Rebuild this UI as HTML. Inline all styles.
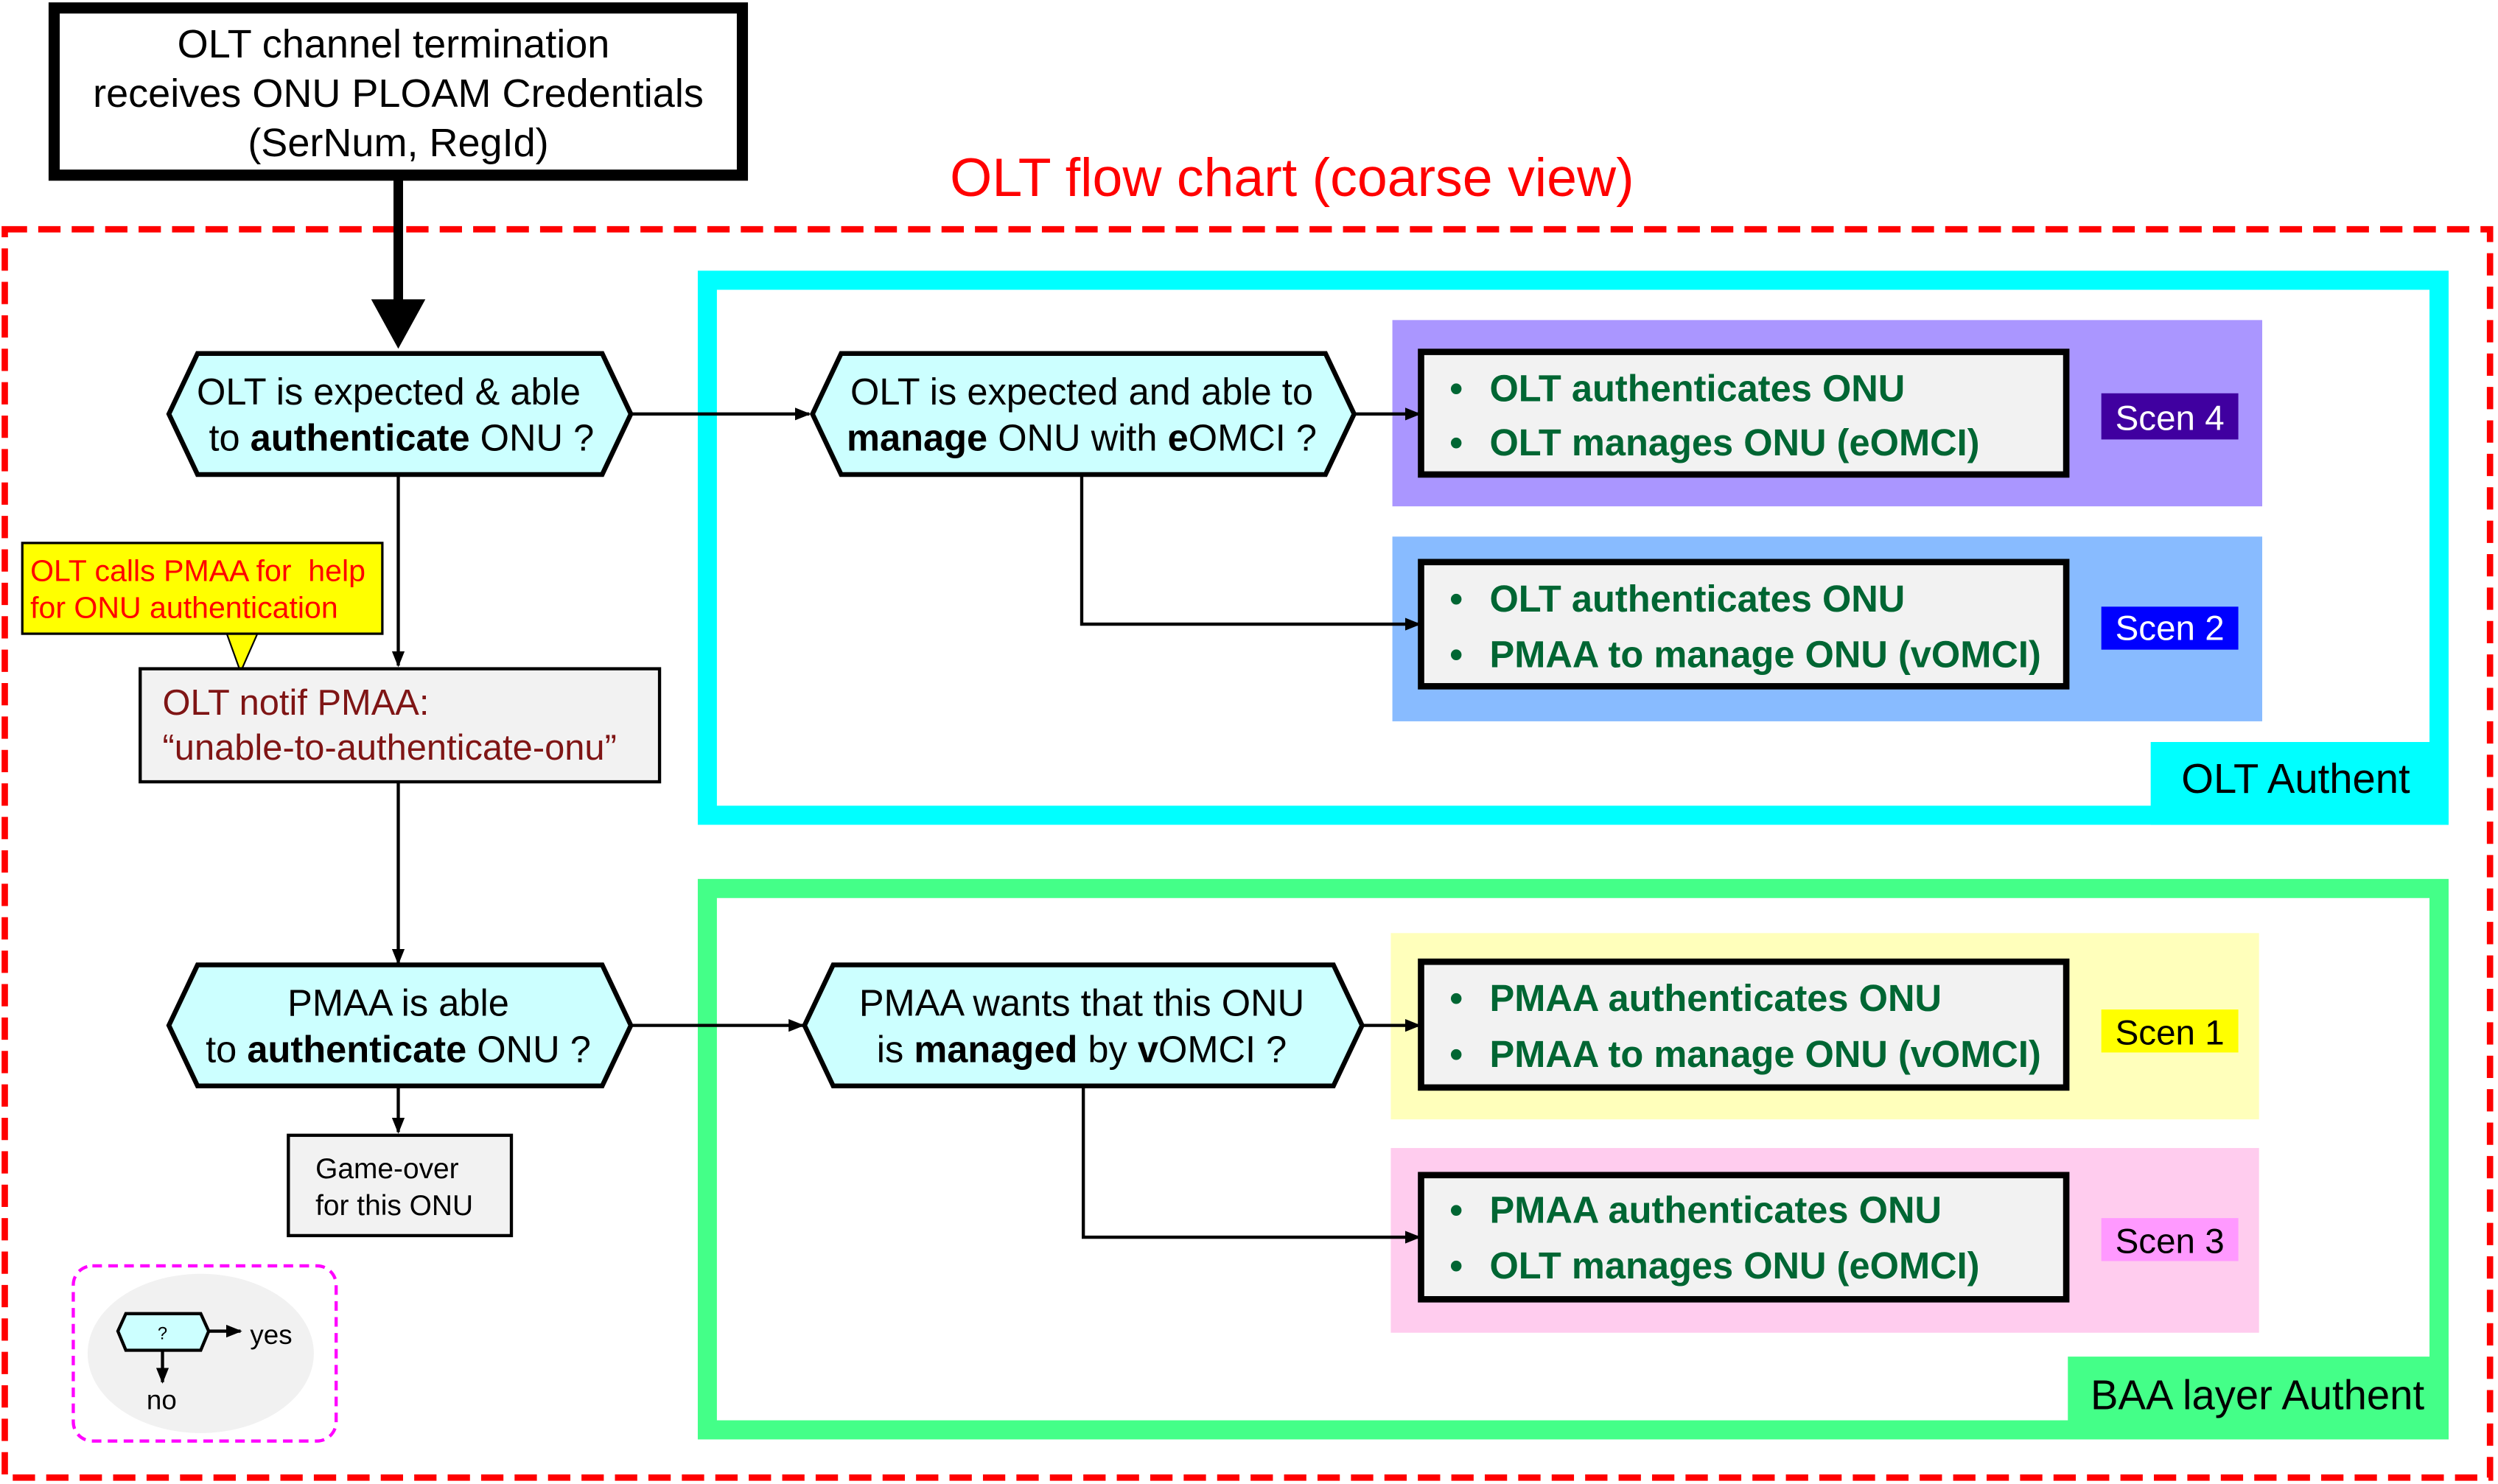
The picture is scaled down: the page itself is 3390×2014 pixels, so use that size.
<!DOCTYPE html>
<html><head><meta charset="utf-8"><style>
html,body{margin:0;padding:0;background:#fff;}
svg{display:block;}
text{font-family:"Liberation Sans",Arial,sans-serif;white-space:pre;}
</style></head><body>
<svg width="3390" height="2014" viewBox="0 0 1568 932" preserveAspectRatio="none" xmlns="http://www.w3.org/2000/svg" xml:space="preserve">
<defs>
<marker id="ah" markerWidth="10" markerHeight="8" refX="9" refY="4" orient="auto" markerUnits="userSpaceOnUse"><path d="M0,0 L10,4 L0,8 z" fill="#000"/></marker>
</defs>
<rect x="0" y="0" width="1568" height="932" fill="#fff"/>
<rect x="3" y="144" width="1560" height="784" fill="none" stroke="#ff0000" stroke-width="4" stroke-dasharray="14,7"/>
<text x="811" y="123" font-size="34" fill="#ff0000" text-anchor="middle">OLT flow chart (coarse view)</text>

<rect x="34" y="5" width="432" height="105" fill="#fff" stroke="#000" stroke-width="7"/>
<text x="247" y="36" font-size="25" text-anchor="middle">OLT channel termination</text>
<text x="250" y="67" font-size="25" text-anchor="middle">receives ONU PLOAM Credentials</text>
<text x="250" y="98" font-size="25" text-anchor="middle">(SerNum, RegId)</text>
<line x1="250" y1="112" x2="250" y2="190" stroke="#000" stroke-width="6"/>
<path d="M233,188 L267,188 L250,219 z" fill="#000"/>

<rect x="444" y="176" width="1087" height="336" fill="none" stroke="#00ffff" stroke-width="12"/>
<rect x="1350" y="466" width="187" height="52" fill="#00ffff"/>
<text x="1441" y="498" font-size="26" text-anchor="middle">OLT Authent</text>

<rect x="444" y="558" width="1087" height="340" fill="none" stroke="#44ff88" stroke-width="12"/>
<rect x="1298" y="852" width="239" height="52" fill="#44ff88"/>
<text x="1417" y="885" font-size="26" text-anchor="middle">BAA layer Authent</text>

<rect x="874" y="201" width="546" height="117" fill="#aa96ff"/>
<rect x="874" y="337" width="546" height="116" fill="#88bbff"/>
<rect x="873" y="586" width="545" height="117" fill="#ffffbb"/>
<rect x="873" y="721" width="545" height="116" fill="#ffccee"/>

<g font-size="23.4" font-weight="bold" fill="#006633">
<rect x="892" y="221" width="405" height="77" fill="#f2f2f2" stroke="#000" stroke-width="4"/>
<text x="910" y="252">•</text><text x="935" y="252">OLT authenticates ONU</text>
<text x="910" y="286">•</text><text x="935" y="286">OLT manages ONU (eOMCI)</text>
<rect x="892" y="353" width="405" height="78" fill="#f2f2f2" stroke="#000" stroke-width="4"/>
<text x="910" y="384">•</text><text x="935" y="384">OLT authenticates ONU</text>
<text x="910" y="419">•</text><text x="935" y="419">PMAA to manage ONU (vOMCI)</text>
<rect x="892" y="604" width="405" height="79" fill="#f2f2f2" stroke="#000" stroke-width="4"/>
<text x="910" y="635">•</text><text x="935" y="635">PMAA authenticates ONU</text>
<text x="910" y="670">•</text><text x="935" y="670">PMAA to manage ONU (vOMCI)</text>
<rect x="892" y="738" width="405" height="78" fill="#f2f2f2" stroke="#000" stroke-width="4"/>
<text x="910" y="768">•</text><text x="935" y="768">PMAA authenticates ONU</text>
<text x="910" y="803">•</text><text x="935" y="803">OLT manages ONU (eOMCI)</text>
</g>

<rect x="1319" y="247" width="86" height="29" fill="#4000a0"/>
<text x="1362" y="270" font-size="22" fill="#fff" text-anchor="middle">Scen 4</text>
<rect x="1319" y="381" width="86" height="27" fill="#0000ff"/>
<text x="1362" y="402" font-size="22" fill="#fff" text-anchor="middle">Scen 2</text>
<rect x="1319" y="634" width="86" height="27" fill="#ffff00"/>
<text x="1362" y="656" font-size="22" fill="#000" text-anchor="middle">Scen 1</text>
<rect x="1319" y="765" width="86" height="27" fill="#ff99ff"/>
<text x="1362" y="787" font-size="22" fill="#000" text-anchor="middle">Scen 3</text>

<g fill="#ccffff" stroke="#000" stroke-width="3">
<polygon points="106,260 124,222 378,222 396,260 378,298 124,298"/>
<polygon points="510,260 528,222 832,222 850,260 832,298 528,298"/>
<polygon points="106,644 124,606 378,606 396,644 378,682 124,682"/>
<polygon points="505,644 523,606 837,606 855,644 837,682 523,682"/>
</g>
<g font-size="23.4" text-anchor="middle">
<text x="244" y="254">OLT is expected &amp; able</text>
<text x="252" y="283">to <tspan font-weight="bold">authenticate</tspan> ONU ?</text>
<text x="679" y="254">OLT is expected and able to</text>
<text x="679" y="283"><tspan font-weight="bold">manage</tspan> ONU with <tspan font-weight="bold">e</tspan>OMCI ?</text>
<text x="250" y="638">PMAA is able</text>
<text x="250" y="667">to <tspan font-weight="bold">authenticate</tspan> ONU ?</text>
<text x="679" y="638">PMAA wants that this ONU</text>
<text x="679" y="667">is <tspan font-weight="bold">managed</tspan> by <tspan font-weight="bold">v</tspan>OMCI ?</text>
</g>

<g stroke="#000" stroke-width="2" fill="none">
<line x1="396" y1="260" x2="508" y2="260" marker-end="url(#ah)"/>
<line x1="850" y1="260" x2="891" y2="260" marker-end="url(#ah)"/>
<polyline points="679,298 679,392 891,392" marker-end="url(#ah)"/>
<line x1="250" y1="298" x2="250" y2="418" marker-end="url(#ah)"/>
<line x1="250" y1="491" x2="250" y2="605" marker-end="url(#ah)"/>
<line x1="396" y1="644" x2="504" y2="644" marker-end="url(#ah)"/>
<line x1="855" y1="644" x2="891" y2="644" marker-end="url(#ah)"/>
<polyline points="680,682 680,777 891,777" marker-end="url(#ah)"/>
<line x1="250" y1="682" x2="250" y2="711" marker-end="url(#ah)"/>
</g>

<polygon points="142,397 162,397 151,422" fill="#ffff00" stroke="#000" stroke-width="1"/>
<rect x="14" y="341" width="226" height="57" fill="#ffff00" stroke="#000" stroke-width="1.5"/>
<rect x="142" y="395" width="20" height="2" fill="#ffff00"/>
<text x="19" y="365" font-size="19" fill="#ff0000">OLT calls PMAA for  help</text>
<text x="19" y="388" font-size="19" fill="#ff0000">for ONU authentication</text>

<rect x="88" y="420" width="326" height="71" fill="#f2f2f2" stroke="#000" stroke-width="2"/>
<text x="102" y="449" font-size="22.6" fill="#7f1515">OLT notif PMAA:</text>
<text x="102" y="477" font-size="22.6" fill="#7f1515">“unable-to-authenticate-onu”</text>

<rect x="181" y="713" width="140" height="63" fill="#f2f2f2" stroke="#000" stroke-width="2"/>
<text x="198" y="740" font-size="18">Game-over</text>
<text x="198" y="763" font-size="18">for this ONU</text>

<rect x="46" y="795" width="165" height="110" rx="12" fill="none" stroke="#ff00ff" stroke-width="2" stroke-dasharray="6,4"/>
<ellipse cx="126" cy="850" rx="71" ry="50" fill="#f1f1f1"/>
<polygon points="74,836 79,825 126,825 131,836 126,848 79,848" fill="#ccffff" stroke="#000" stroke-width="2"/>
<text x="102" y="841" font-size="11" text-anchor="middle">?</text>
<line x1="131" y1="836" x2="151" y2="836" stroke="#000" stroke-width="2" marker-end="url(#ah)"/>
<line x1="102" y1="848" x2="102" y2="868" stroke="#000" stroke-width="2" marker-end="url(#ah)"/>
<text x="157" y="844" font-size="17">yes</text>
<text x="92" y="885" font-size="17">no</text>
</svg>
</body></html>
